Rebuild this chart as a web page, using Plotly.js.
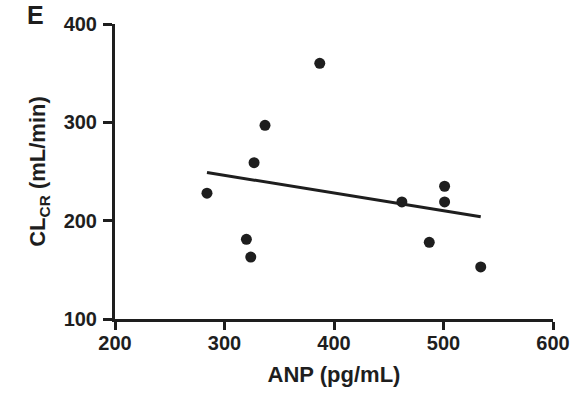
<!DOCTYPE html>
<html>
<head>
<meta charset="utf-8">
<script src="https://cdn.plot.ly/plotly-3.0.1.min.js"></script>
<style>html,body{margin:0;padding:0;background:#fff;}#chart{width:584px;height:395px;}</style>
</head>
<body>
<div id="chart"></div>
<script>
// Data
const anp = [284, 320, 324, 327, 337, 387, 462, 487, 501, 501, 534];
const clcr = [228, 181, 163, 259, 297, 360, 219, 178, 235, 219, 153];
// Regression line endpoints
const fitX = [284, 534];
const fitY = [249, 204];
const xTicks = [200, 300, 400, 500, 600];
const yTicks = [100, 200, 300, 400];

const ink = '#1e1e1e';
const fontFam = 'Liberation Sans, Arial, sans-serif';

const traces = [
  {x: anp, y: clcr, type: 'scatter', mode: 'markers',
   marker: {size: 11, color: ink}, cliponaxis: false, showlegend: false},
  {x: fitX, y: fitY, type: 'scatter', mode: 'lines',
   line: {color: ink, width: 3}, showlegend: false}
];

const layout = {
  width: 584, height: 395,
  margin: {l: 115, r: 31, t: 24, b: 76},
  paper_bgcolor: '#fff', plot_bgcolor: '#fff',
  font: {family: fontFam, color: ink},
  showlegend: false,
  xaxis: {
    range: [200, 600], tickvals: xTicks, ticktext: xTicks.map(String),
    showline: true, linewidth: 3, linecolor: ink, mirror: false,
    ticks: 'outside', ticklen: 8, tickwidth: 3, tickcolor: ink,
    ticklabelstandoff: -4,
    showgrid: false, zeroline: false,
    tickfont: {size: 20, family: fontFam, weight: 'bold', color: ink},
    title: {text: 'ANP (pg/mL)', standoff: 14,
            font: {size: 22, family: fontFam, weight: 'bold', color: ink}}
  },
  yaxis: {
    range: [100, 400], tickvals: yTicks, ticktext: yTicks.map(String),
    showline: true, linewidth: 3, linecolor: ink,
    ticks: 'outside', ticklen: 9, tickwidth: 3, tickcolor: ink,
    ticklabelstandoff: 2,
    showgrid: false, zeroline: false,
    tickfont: {size: 20, family: fontFam, weight: 'bold', color: ink},
    title: {text: 'CL<sub>CR</sub> (mL/min)', standoff: 12,
            font: {size: 22, family: fontFam, weight: 'bold', color: ink}}
  },
  annotations: [{
    text: 'E', xref: 'paper', yref: 'paper', x: -0.205, y: 1.03,
    xanchor: 'left', yanchor: 'middle', showarrow: false,
    font: {size: 25, family: fontFam, weight: 'bold', color: ink}
  }]
};

Plotly.newPlot('chart', traces, layout, {staticPlot: true, displayModeBar: false});
</script>
</body>
</html>
